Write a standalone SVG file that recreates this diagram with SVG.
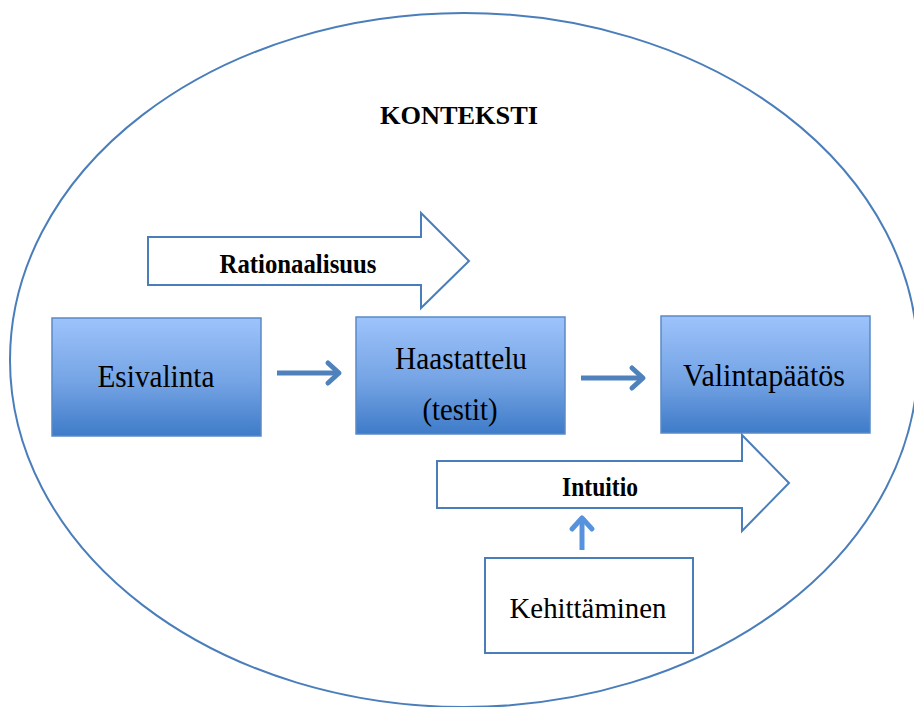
<svg xmlns="http://www.w3.org/2000/svg" width="914" height="707" viewBox="0 0 914 707">
<style>
  .t { font-family: "Liberation Serif", "Times New Roman", serif; fill: #000; }
  .b { font-weight: bold; }
  .box { fill: url(#g); stroke: #5B8AC6; stroke-width: 1.5; }
  .wbox { fill: #fff; stroke: #4A7EBB; stroke-width: 2; }
  .outline { fill: #fff; stroke: #4A7EBB; stroke-width: 2; stroke-linejoin: miter; }
  .conn { stroke: #4F81BD; stroke-width: 5; fill: none; }
  .head { stroke: #4F81BD; stroke-width: 5; fill: none; stroke-linecap: round; stroke-linejoin: round; }
  .up { stroke: #5693DC; }
</style>
<defs>
  <linearGradient id="g" x1="0" y1="0" x2="0" y2="1">
    <stop offset="0" stop-color="#9DC3FB"/>
    <stop offset="0.55" stop-color="#74A3E4"/>
    <stop offset="1" stop-color="#3E7BC8"/>
  </linearGradient>
</defs>
<rect width="914" height="707" fill="#fff"/>
<g id="context">
  <ellipse cx="464" cy="360" rx="454" ry="347" fill="none" stroke="#4A7EBB" stroke-width="2"/>
  <text class="t b" x="459" y="124" font-size="26" text-anchor="middle" textLength="158" lengthAdjust="spacingAndGlyphs">KONTEKSTI</text>
</g>
<g id="rationaalisuus">
  <path class="outline" d="M148,237 H421 V213 L469,261 L421,308 V285 H148 Z"/>
  <text class="t b" x="298" y="273" font-size="28" text-anchor="middle" textLength="157" lengthAdjust="spacingAndGlyphs">Rationaalisuus</text>
</g>
<g id="esivalinta">
  <rect class="box" x="52" y="318" width="209" height="118"/>
  <text class="t" x="156" y="387" font-size="31" text-anchor="middle" textLength="117" lengthAdjust="spacingAndGlyphs">Esivalinta</text>
</g>
<g id="haastattelu">
  <rect class="box" x="356" y="317" width="209" height="117"/>
  <text class="t" x="461" y="369" font-size="31" text-anchor="middle" textLength="132" lengthAdjust="spacingAndGlyphs">Haastattelu</text>
  <text class="t" x="460" y="420" font-size="31" text-anchor="middle" textLength="75" lengthAdjust="spacingAndGlyphs">(testit)</text>
</g>
<g id="valintapaatos">
  <rect class="box" x="661" y="316" width="209" height="117"/>
  <text class="t" x="764" y="386" font-size="31" text-anchor="middle" textLength="162" lengthAdjust="spacingAndGlyphs">Valintapäätös</text>
</g>
<g id="intuitio">
  <path class="outline" d="M437,461 H742 V435 L789,483 L742,531 V508 H437 Z"/>
  <text class="t b" x="600" y="496" font-size="28" text-anchor="middle" textLength="76" lengthAdjust="spacingAndGlyphs">Intuitio</text>
</g>
<g id="kehittaminen">
  <rect class="wbox" x="485" y="558" width="208" height="95"/>
  <text class="t" x="588" y="618" font-size="30" text-anchor="middle" textLength="157" lengthAdjust="spacingAndGlyphs">Kehittäminen</text>
</g>
<g id="connectors">
  <line class="conn" x1="277" y1="373" x2="337" y2="373"/>
  <polyline class="head" points="328,363 339,373 328,383"/>
  <line class="conn" x1="581" y1="378" x2="641" y2="378"/>
  <polyline class="head" points="632,368 643,378 632,388"/>
  <line class="conn up" x1="582" y1="550" x2="582" y2="520"/>
  <polyline class="head up" points="572,529 582,518 592,529"/>
</g>
</svg>
